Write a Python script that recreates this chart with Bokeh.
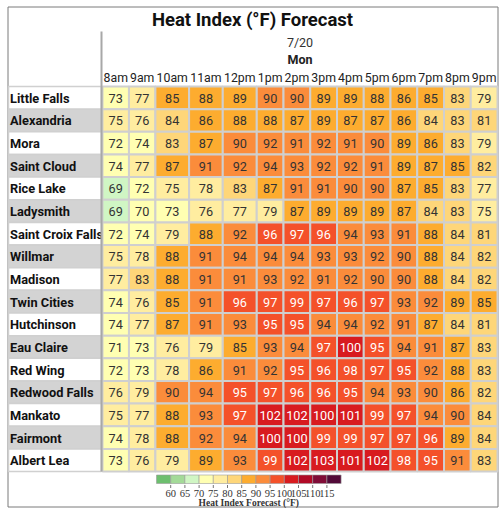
import numpy as np
from bokeh.plotting import figure
from bokeh.models import ColumnDataSource, LinearColorMapper, Range1d
from bokeh.transform import transform
from bokeh.core.properties import value
from bokeh.embed import file_html
from bokeh.resources import INLINE

# ---------------- data ----------------
TITLE = "Heat Index (°F) Forecast"
DATE_LABEL = "7/20"
DAY_LABEL = "Mon"
HOURS = ["8am", "9am", "10am", "11am", "12pm", "1pm", "2pm", "3pm",
         "4pm", "5pm", "6pm", "7pm", "8pm", "9pm"]
CITIES = ["Little Falls", "Alexandria", "Mora", "Saint Cloud", "Rice Lake",
          "Ladysmith", "Saint Croix Falls", "Willmar", "Madison", "Twin Cities",
          "Hutchinson", "Eau Claire", "Red Wing", "Redwood Falls", "Mankato",
          "Fairmont", "Albert Lea"]

little_falls      = [73, 77, 85, 88, 89, 90, 90, 89, 89, 88, 86, 85, 83, 79]
alexandria        = [75, 76, 84, 86, 88, 88, 87, 89, 87, 87, 86, 84, 83, 81]
mora              = [72, 74, 83, 87, 90, 92, 91, 92, 91, 90, 89, 86, 83, 79]
saint_cloud       = [74, 77, 87, 91, 92, 94, 93, 92, 92, 91, 89, 87, 85, 82]
rice_lake         = [69, 72, 75, 78, 83, 87, 91, 91, 90, 90, 87, 85, 83, 77]
ladysmith         = [69, 70, 73, 76, 77, 79, 87, 89, 89, 89, 87, 84, 83, 75]
saint_croix_falls = [72, 74, 79, 88, 92, 96, 97, 96, 94, 93, 91, 88, 84, 81]
willmar           = [75, 78, 88, 91, 94, 94, 94, 93, 93, 92, 90, 88, 84, 82]
madison           = [77, 83, 88, 91, 91, 93, 92, 91, 92, 90, 90, 88, 84, 82]
twin_cities       = [74, 76, 85, 91, 96, 97, 99, 97, 96, 97, 93, 92, 89, 85]
hutchinson        = [74, 77, 87, 91, 93, 95, 95, 94, 94, 92, 91, 87, 84, 81]
eau_claire        = [71, 73, 76, 79, 85, 93, 94, 97, 100, 95, 94, 91, 87, 83]
red_wing          = [72, 73, 78, 86, 91, 92, 95, 96, 98, 97, 95, 92, 88, 83]
redwood_falls     = [76, 79, 90, 94, 95, 97, 96, 96, 95, 94, 93, 90, 86, 82]
mankato           = [75, 77, 88, 93, 97, 102, 102, 100, 101, 99, 97, 94, 90, 84]
fairmont          = [74, 78, 88, 92, 94, 100, 100, 99, 99, 97, 97, 96, 89, 84]
albert_lea        = [73, 76, 79, 89, 93, 99, 102, 103, 101, 102, 98, 95, 91, 83]

ROWS = [little_falls, alexandria, mora, saint_cloud, rice_lake, ladysmith,
        saint_croix_falls, willmar, madison, twin_cities, hutchinson,
        eau_claire, red_wing, redwood_falls, mankato, fairmont, albert_lea]

LEGEND_TICKS = [60, 65, 70, 75, 80, 85, 90, 95, 100, 105, 110, 115]
LEGEND_TITLE = "Heat Index Forecast (°F)"
PALETTE = ["#6dbf6f", "#a3da98", "#d0f6c4", "#ffffb2", "#ffeda0", "#fed679",
           "#fdac2f", "#fb8c3b", "#f4512a", "#d81b1f", "#b10a26", "#800c37",
           "#520a38"]

# ---------------- layout ----------------
W, H = 502, 508
FONT = "Roboto"

p = figure(width=W, height=H, x_range=Range1d(0, W), y_range=Range1d(H, 0),
           output_backend="svg", toolbar_location=None, min_border=0,
           x_axis_type=None, y_axis_type=None)
p.grid.visible = False
p.outline_line_color = None
p.background_fill_color = "white"
p.border_fill_color = "white"

mapper = LinearColorMapper(palette=PALETTE, low=LEGEND_TICKS[0] - 5.5,
                           high=LEGEND_TICKS[-1] + 4.5)

# column widths derived from header label widths
def label_width(s):
    cw = {"a": 7.0, "p": 7.3, "m": 11.4}
    return sum(cw.get(c, 7.3) for c in s) + 1.0

FRAME_L, FRAME_R, FRAME_T, FRAME_B = 7.5, 497.5, 6.5, 506.5
GX0, GX1 = 102.0, 497.0
raw = np.array([label_width(h) for h in HOURS])
widths = raw * (GX1 - GX0) / raw.sum()
lefts = GX0 + np.concatenate([[0], np.cumsum(widths)[:-1]])
rights = lefts + widths
centers = (lefts + rights) / 2

ROW_TOP = 86.0
ROW_H = 22.65
LABEL_RIGHT = 101.0

# frame
p.quad(left=FRAME_L, right=FRAME_R, top=FRAME_T, bottom=FRAME_B,
       fill_color=None, line_color="#7a7a7a", line_width=1)

# row label backgrounds
rl = dict(l=[], r=[], t=[], b=[], c=[], y=[], name=[])
for i, city in enumerate(CITIES):
    t = ROW_TOP + i * ROW_H
    rl["l"].append(FRAME_L + 0.5)
    rl["r"].append(LABEL_RIGHT)
    rl["t"].append(t)
    rl["b"].append(t + ROW_H)
    rl["c"].append("#d3d3d3" if i % 2 == 1 else "#ffffff")
    rl["y"].append(t + ROW_H / 2 + 0.5)
    rl["name"].append(city)
rsrc = ColumnDataSource(rl)
p.quad(left="l", right="r", top="t", bottom="b", fill_color="c",
       line_color="#d0d0d0", line_width=1.5, source=rsrc)
p.text(x=FRAME_L + 2, y="y", text="name", source=rsrc, text_align="left",
       text_baseline="middle", text_font=value(FONT), text_font_style="bold",
       text_font_size="12.8px", text_color="#111111")

# cells
cd = dict(l=[], r=[], t=[], b=[], v=[], cx=[], cy=[], txt=[], tc=[])
for i, row in enumerate(ROWS):
    t = ROW_TOP + i * ROW_H
    for j, v in enumerate(row):
        cd["l"].append(lefts[j])
        cd["r"].append(rights[j])
        cd["t"].append(t)
        cd["b"].append(t + ROW_H)
        cd["v"].append(v)
        cd["cx"].append(centers[j])
        cd["cy"].append(t + ROW_H / 2 + 0.5)
        cd["txt"].append(str(v))
        cd["tc"].append("#ffffff" if v >= 95 else "#333333")
csrc = ColumnDataSource(cd)
p.quad(left="l", right="r", top="t", bottom="b",
       fill_color=transform("v", mapper), line_color="#cfcfcf",
       line_width=2, source=csrc)
p.text(x="cx", y="cy", text="txt", text_color="tc", source=csrc,
       text_align="center", text_baseline="middle", text_font=value(FONT),
       text_font_size="12.7px")

# separator line
p.segment(x0=LABEL_RIGHT, y0=31, x1=LABEL_RIGHT,
          y1=ROW_TOP + len(CITIES) * ROW_H, line_color="#a8a8a8", line_width=2)

# header
hsrc = ColumnDataSource(dict(x=list(centers), txt=HOURS))
p.text(x="x", y=77.5, text="txt", source=hsrc, text_align="center",
       text_baseline="middle", text_font=value(FONT), text_font_size="12.3px",
       text_color="#222222")
gc = (GX0 + GX1) / 2
p.text(x=[gc], y=[42], text=[DATE_LABEL], text_align="center",
       text_baseline="middle", text_font=value(FONT), text_font_size="12.5px",
       text_color="#333333")
p.text(x=[gc], y=[59], text=[DAY_LABEL], text_align="center",
       text_baseline="middle", text_font=value(FONT), text_font_style="bold",
       text_font_size="12.5px", text_color="#222222")
p.text(x=[252], y=[19], text=[TITLE], text_align="center",
       text_baseline="middle", text_font=value(FONT), text_font_style="bold",
       text_font_size="18.5px", text_color="#111111")

# legend colour bar
LEG_L, BW = 156.0, 14.2
LEG_T, LEG_B = 474.5, 483.0
mids = [LEGEND_TICKS[0] - 2.5] + [t + 2.5 for t in LEGEND_TICKS]
ll = [LEG_L + k * BW for k in range(len(mids))]
lsrc = ColumnDataSource(dict(l=ll, r=[x + BW for x in ll], v=mids))
p.quad(left="l", right="r", top=LEG_T, bottom=LEG_B,
       fill_color=transform("v", mapper), line_color="#9a9a9a",
       line_width=0.6, source=lsrc)
tx = [LEG_L + (k + 1) * BW for k in range(len(LEGEND_TICKS))]
p.segment(x0=tx, y0=[484.5] * len(tx), x1=tx, y1=[487.5] * len(tx),
          line_color="#777777", line_width=1)
p.text(x=tx, y=[492.5] * len(tx), text=[str(t) for t in LEGEND_TICKS],
       text_align="center", text_baseline="middle",
       text_font=value("Liberation Serif"), text_font_size="10.5px",
       text_color="#333333")
p.text(x=[LEG_L + len(mids) * BW / 2], y=[497.5], text=[LEGEND_TITLE],
       text_align="center", text_baseline="top",
       text_font=value("Liberation Serif"), text_font_style="bold",
       text_font_size="9.5px", text_color="#333333")

open("out.html", "w").write(file_html(p, INLINE))
